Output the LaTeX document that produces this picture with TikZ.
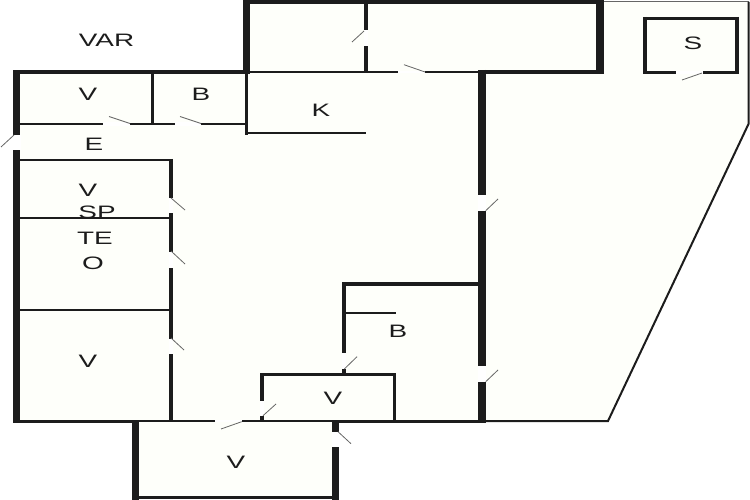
\documentclass[tikz,border=0pt]{standalone}
\usepackage{fontspec}
\setmainfont{Liberation Sans}
\definecolor{planfill}{HTML}{FEFFFA}
\definecolor{wallcol}{HTML}{1C1C1C}
\tikzset{
    wall/.style={draw=wallcol, line width=7.6pt},
    midwall/.style={draw=wallcol, line width=3.6pt},
    partition/.style={draw=wallcol, line width=2.6pt},
    thinwall/.style={draw=wallcol, line width=2pt},
    leaf/.style={draw=black!60, line width=0.8pt},
    gap/.style={fill=white, draw=none},
    room/.style={text=wallcol, font=\fontsize{18}{18}\selectfont, xscale=1.55, transform shape, inner sep=0pt},
}
\begin{document}
\begin{tikzpicture}[x=1pt, y=-1pt]
    \useasboundingbox (0, 0) rectangle (750, 500);
    % Floor
    \fill[planfill] (14, 72) -- (245, 72) -- (245, 1) -- (748, 2) -- (748, 124) -- (608, 421) -- (338, 421) -- (338, 498) -- (133, 498) -- (133, 421) -- (14, 421) -- cycle;
    % Outer walls
    \draw[wall] (16.5, 71) -- (16.5, 135);
    \draw[wall] (16.5, 150) -- (16.5, 423);
    \draw[wall] (246.5, 0) -- (246.5, 74);
    \draw[wall] (600, 0) -- (600, 74);
    \draw[midwall] (245, 2) -- (604, 2);
    \draw[midwall] (13, 72) -- (245, 72);
    \draw[midwall] (478, 72) -- (604, 72);
    \draw[midwall] (13, 421.5) -- (138, 421.5);
    \draw[midwall] (332, 421.5) -- (482, 421.5);
    % Lower room
    \draw[wall] (135.5, 421) -- (135.5, 500);
    \draw[wall] (335.5, 420) -- (335.5, 432);
    \draw[wall] (335.5, 447) -- (335.5, 500);
    \draw[midwall] (132, 497.5) -- (339, 497.5);
    % Middle wall
    \draw[wall] (482, 70) -- (482, 195);
    \draw[wall] (482, 211) -- (482, 366);
    \draw[wall] (482, 382) -- (482, 423);
    % Terrace
    \draw[leaf, line width=1pt] (604, 2) -- (748.5, 2);
    \draw[thinwall] (748.5, 2) -- (748.5, 124) -- (608, 421) -- (486, 421);
    % Store
    \draw[midwall] (645, 17) -- (645, 74);
    \draw[midwall] (737, 17) -- (737, 74);
    \draw[midwall] (643, 18.5) -- (739, 18.5);
    \draw[midwall] (643, 72.5) -- (676, 72.5);
    \draw[midwall] (703, 72.5) -- (739, 72.5);
    % Upper rooms
    \draw[midwall] (152.5, 72) -- (152.5, 124);
    \draw[partition] (20, 124) -- (103, 124);
    \draw[partition] (130, 124) -- (175, 124);
    \draw[partition] (201, 124) -- (245, 124);
    \draw[midwall] (246.5, 72) -- (246.5, 135);
    \draw[thinwall] (245, 133.5) -- (366, 133.5);
    \draw[thinwall] (250, 72) -- (398, 72);
    \draw[thinwall] (425, 72) -- (478, 72);
    \draw[midwall] (366, 3) -- (366, 30);
    \draw[midwall] (366, 46) -- (366, 72);
    % Left rooms
    \draw[thinwall] (20, 160) -- (173, 160);
    \draw[thinwall] (20, 218) -- (170, 218);
    \draw[thinwall] (20, 310) -- (170, 310);
    \draw[midwall] (171, 159) -- (171, 198);
    \draw[midwall] (171, 213) -- (171, 252);
    \draw[midwall] (171, 268) -- (171, 339);
    \draw[midwall] (171, 354) -- (171, 421);
    % Bottom rooms
    \draw[thinwall] (138, 421) -- (215, 421);
    \draw[thinwall] (242, 421) -- (332, 421);
    \draw[partition] (260, 374.5) -- (396, 374.5);
    \draw[midwall] (262, 373) -- (262, 401);
    \draw[midwall] (262, 416) -- (262, 421);
    \draw[midwall] (394.5, 373) -- (394.5, 421);
    \draw[midwall] (344, 283) -- (344, 353);
    \draw[midwall] (344, 369) -- (344, 374);
    \draw[midwall] (342, 284) -- (478, 284);
    \draw[thinwall] (346, 312.5) -- (396, 312.5);
    % Door openings
    \fill[gap] (12, 135) rectangle (21, 150);
    \fill[gap] (478, 195) rectangle (486, 211);
    \fill[gap] (478, 366) rectangle (486, 382);
    \fill[gap] (331.5, 432) rectangle (339.5, 447);
    \fill[gap] (169, 198) rectangle (173, 213);
    \fill[gap] (169, 252) rectangle (173, 268);
    \fill[gap] (169, 339) rectangle (173, 354);
    \fill[gap] (260, 401) rectangle (264, 416);
    \fill[gap] (342, 353) rectangle (346, 369);
    \fill[gap] (364, 30) rectangle (368, 46);
    \fill[gap] (103, 122) rectangle (130, 126);
    \fill[gap] (175, 122) rectangle (201, 126);
    \fill[gap] (398, 71) rectangle (425, 73);
    \fill[gap] (215, 420) rectangle (242, 422);
    \fill[gap] (676, 71) rectangle (703, 74);
    % Door leaves
    \foreach \xa/\ya/\xb/\yb in {14/135/1/147, 109/116.5/130/123.5, 180/116.5/201/123.5, 364/31/352/42,
        404/64.7/425/72, 702/73/682/80, 485.7/210.7/498/199, 485.7/381.7/498/370,
        171/198/185/210, 171/251/185/264, 171/338/184/350, 344.3/369/357/356.7,
        263/415.7/276/404, 241.7/421.7/221/429, 338/431.7/351/443.7}
        \draw[leaf] (\xa, \ya) -- (\xb, \yb);
    % Labels
    \node[room] (var) at (106.5, 40.5) {VAR};
    \node[room] (closeta) at (88, 94.5) {V};
    \node[room] (batha) at (201, 94.5) {B};
    \node[room] (kitchen) at (321, 110.5) {K};
    \node[room] (entry) at (94, 144.5) {E};
    \node[room] (closetb) at (88, 190.5) {V};
    \node[room] (sp) at (97, 212.5) {SP};
    \node[room] (te) at (95, 238.5) {TE};
    \node[room] (oo) at (93, 263.5) {O};
    \node[room] (closetc) at (88, 361.5) {V};
    \node[room] (bathb) at (398, 331.5) {B};
    \node[room] (closetd) at (333, 398.5) {V};
    \node[room] (closete) at (236, 462.5) {V};
    \node[room] (store) at (693, 43.5) {S};
\end{tikzpicture}
\end{document}
